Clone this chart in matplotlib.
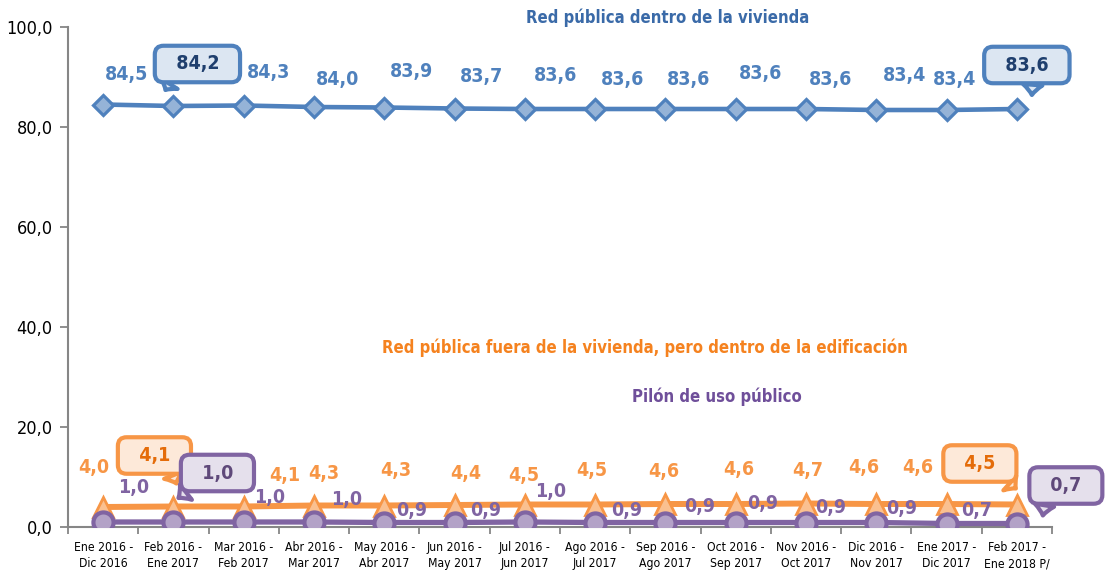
import matplotlib
matplotlib.use("Agg")
import matplotlib.pyplot as plt
from matplotlib.transforms import offset_copy

periodos = ["Ene 2016 -\nDic 2016", "Feb 2016 -\nEne 2017", "Mar 2016 -\nFeb 2017",
            "Abr 2016 -\nMar 2017", "May 2016 -\nAbr 2017", "Jun 2016 -\nMay 2017",
            "Jul 2016 -\nJun 2017", "Ago 2016 -\nJul 2017", "Sep 2016 -\nAgo 2017",
            "Oct 2016 -\nSep 2017", "Nov 2016 -\nOct 2017", "Dic 2016 -\nNov 2017",
            "Ene 2017 -\nDic 2017", "Feb 2017 -\nEne 2018 P/"]
dentro = [84.5, 84.2, 84.3, 84.0, 83.9, 83.7, 83.6, 83.6, 83.6, 83.6, 83.6, 83.4, 83.4, 83.6]
fuera = [4.0, 4.1, 4.1, 4.3, 4.3, 4.4, 4.5, 4.5, 4.6, 4.6, 4.7, 4.6, 4.6, 4.5]
pilon = [1.0, 1.0, 1.0, 1.0, 0.9, 0.9, 1.0, 0.9, 0.9, 0.9, 0.9, 0.9, 0.7, 0.7]
y_ticks = [0, 20, 40, 60, 80, 100]

plt.rcParams['font.family'] = ['DejaVu Sans']
plt.rcParams['font.stretch'] = 'condensed'

# label offsets in pixels (None = callout)
off_dentro = [(23, 30), None, (25, 33), (24, 27), (27, 36), (27, 32), (31, 34),
              (27, 29), (23, 29), (25, 36), (25, 29), (28, 34), (8, 30), None]
off_fuera = [(-9, 39), None, (41, 31), (10, 32), (11, 35), (11, 32), (-1, 29),
             (-3, 34), (-2, 32), (3, 34), (2, 33), (-13, 36), (-29, 37), None]
off_pilon = [(30, 34), None, (26, 25), (33, 22), (27, 12), (31, 12), (26, 30),
             (31, 12), (34, 16), (27, 19), (25, 15), (25, 14), (30, 13), None]


def fmt(v):
    return f"{v:.1f}".replace(".", ",")


fig = plt.figure(figsize=(11.09, 5.82), dpi=100)
ax = fig.add_axes([68 / 1109, 55 / 582, 984 / 1109, 500 / 582])

x = list(range(len(periodos)))
ax.plot(x, dentro, color='#4f81bd', lw=3.3, marker='D', ms=10, mfc='#95b3d7',
        mec='#4f81bd', mew=2.3, zorder=3)
ax.plot(x, fuera, color='#f79646', lw=4.3, marker='^', ms=14, mfc='#fac090',
        mec='#f79646', mew=2, zorder=3)
ax.plot(x, pilon, color='#8064a2', lw=3.8, marker='o', ms=14.5, mfc='#b3a2c7',
        mec='#8064a2', mew=3, zorder=4)


def label(i, v, off, color):
    ax.annotate(fmt(v), (i, v), xytext=off, textcoords='offset pixels', ha='center',
                va='center', fontsize=14, fontweight='bold', color=color, zorder=5)


def callout(i, v, text_off, tip_off, relpos, line, fill, tc):
    tip = offset_copy(ax.transData, x=tip_off[0], y=tip_off[1], units='dots')
    ax.annotate("  " + fmt(v) + "  ", (i, v), xycoords=tip,
                xytext=(text_off[0] - tip_off[0], text_off[1] - tip_off[1]),
                textcoords='offset pixels', ha='center', va='center', fontsize=14,
                fontweight='bold', color=tc, zorder=6,
                bbox=dict(boxstyle='round,pad=0.45,rounding_size=0.45', fc=fill, ec=line, lw=3),
                arrowprops=dict(arrowstyle='wedge,tail_width=1.0,shrink_factor=0.4',
                                fc=fill, ec=line, lw=3, relpos=relpos, shrinkA=0, shrinkB=0))


for i in x:
    if off_dentro[i]:
        label(i, dentro[i], off_dentro[i], '#4f81bd')
    if off_fuera[i]:
        label(i, fuera[i], off_fuera[i], '#f79646')
    if off_pilon[i]:
        label(i, pilon[i], off_pilon[i], '#8064a2')

callout(1, dentro[1], (24, 42), (-8, 16), (0.2, 0.1), '#4f81bd', '#dce6f2', '#1f3f6e')
callout(13, dentro[13], (10, 44), (15, 14), (0.6, 0.1), '#4f81bd', '#dce6f2', '#1f3f6e')
callout(1, fuera[1], (-19, 51), (3, 23), (0.75, 0.1), '#f79646', '#fde9d9', '#e46c0a')
callout(13, fuera[13], (-37, 41), (-1, 16), (0.8, 0.1), '#f79646', '#fde9d9', '#e46c0a')
callout(1, pilon[1], (44, 49), (5, 24), (0.2, 0.1), '#8064a2', '#e5e0ec', '#5f497a')
callout(13, pilon[13], (49, 38), (26, 8), (0.15, 0.1), '#8064a2', '#e5e0ec', '#5f497a')

ax.text(0.609, 1.018, "Red pública dentro de la vivienda", transform=ax.transAxes,
        ha='center', va='center', fontsize=12, fontweight='bold', color='#3a6aa8')
ax.text(0.586, 0.358, "Red pública fuera de la vivienda, pero dentro de la edificación",
        transform=ax.transAxes, ha='center', va='center', fontsize=12,
        fontweight='bold', color='#f5821f')
ax.text(0.659, 0.26, "Pilón de uso público", transform=ax.transAxes, ha='center',
        va='center', fontsize=12, fontweight='bold', color='#6f4f9a')

ax.set_xlim(-0.5, len(periodos) - 0.5)
ax.set_ylim(0, 100)
ax.set_yticks(y_ticks)
ax.set_yticklabels([fmt(t) for t in y_ticks], fontsize=13)
ax.set_xticks(x)
ax.set_xticklabels(periodos, fontsize=8.7, linespacing=1.35)
ax.set_xticks([i - 0.5 for i in range(len(periodos) + 1)], minor=True)
ax.tick_params(axis='x', which='major', length=0, pad=10)
ax.tick_params(axis='x', which='minor', length=5, width=1.3, color='#868686')
ax.tick_params(axis='y', length=6, width=1.3, color='#868686', pad=5)
for s in ['top', 'right']:
    ax.spines[s].set_visible(False)
for s in ['left', 'bottom']:
    ax.spines[s].set_color('#868686')
    ax.spines[s].set_linewidth(1.5)

fig.savefig("out.png", dpi=100)
